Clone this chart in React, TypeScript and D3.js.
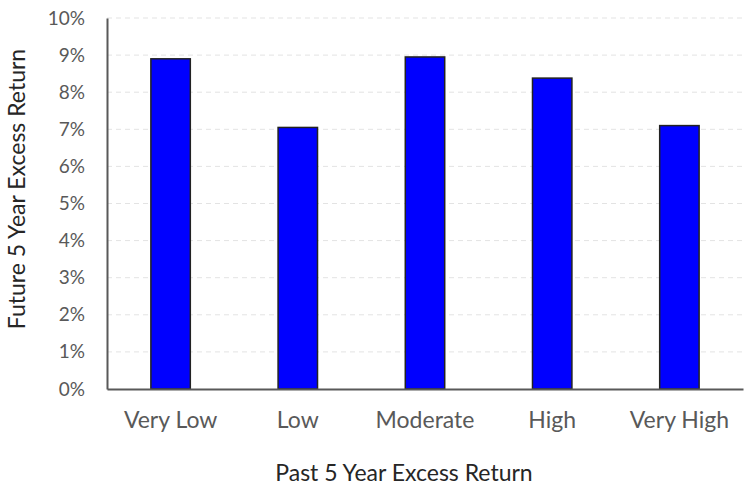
import { useEffect, useRef } from 'react';
import * as d3 from 'd3';

const categories = ['Very Low', 'Low', 'Moderate', 'High', 'Very High'];
const values = [0.089, 0.0705, 0.0895, 0.0838, 0.071];
const yTicks = [0, 0.01, 0.02, 0.03, 0.04, 0.05, 0.06, 0.07, 0.08, 0.09, 0.1];

const App = () => {
  const svgRef = useRef<SVGSVGElement>(null);

  useEffect(() => {
    const svg = d3.select(svgRef.current);
    svg.selectAll('*').remove();

    const width = 745;
    const height = 486;
    const margin = { top: 18, right: 0, bottom: 97, left: 107 };
    const font = 'Lato, "Open Sans", sans-serif';

    const x = d3
      .scaleBand()
      .domain(categories)
      .range([margin.left, width - 2])
      .paddingInner(0.69)
      .paddingOuter(0.345);

    const y = d3
      .scaleLinear()
      .domain([0, 0.1])
      .range([height - margin.bottom, margin.top]);

    // gridlines
    svg
      .append('g')
      .selectAll('line')
      .data(yTicks.slice(1))
      .enter()
      .append('line')
      .attr('x1', margin.left)
      .attr('x2', width - 2)
      .attr('y1', (d) => y(d))
      .attr('y2', (d) => y(d))
      .attr('stroke', '#e3e3e3')
      .attr('stroke-dasharray', '5,4');

    // bars
    svg
      .append('g')
      .selectAll('rect')
      .data(values)
      .enter()
      .append('rect')
      .attr('x', (d, i) => x(categories[i]) as number)
      .attr('width', x.bandwidth())
      .attr('y', (d) => y(d))
      .attr('height', (d) => y(0) - y(d))
      .attr('fill', '#0000ff')
      .attr('stroke', '#222')
      .attr('stroke-width', 1.5);

    // y axis
    const yAxis = svg
      .append('g')
      .attr('transform', `translate(${margin.left},0)`)
      .call(
        d3
          .axisLeft(y)
          .tickValues(yTicks)
          .tickFormat(d3.format('.0%'))
          .tickSize(0)
          .tickPadding(22)
      );
    yAxis.select('.domain').attr('stroke', '#595959').attr('stroke-width', 2);
    yAxis
      .selectAll('text')
      .attr('font-family', font)
      .attr('font-size', 19)
      .attr('fill', '#595959');

    // x axis
    const xAxis = svg
      .append('g')
      .attr('transform', `translate(0,${y(0)})`)
      .call(d3.axisBottom(x).tickSize(0).tickPadding(23));
    xAxis.select('.domain').attr('stroke', '#595959').attr('stroke-width', 2);
    xAxis
      .selectAll('text')
      .attr('font-family', font)
      .attr('font-size', 23)
      .attr('fill', '#595959');

    svg
      .append('text')
      .attr('x', 404)
      .attr('y', 481)
      .attr('text-anchor', 'middle')
      .attr('font-family', font)
      .attr('font-size', 23)
      .attr('fill', '#262626')
      .text('Past 5 Year Excess Return');

    svg
      .append('text')
      .attr('transform', `translate(25,189) rotate(-90)`)
      .attr('text-anchor', 'middle')
      .attr('font-family', font)
      .attr('font-size', 23)
      .attr('fill', '#262626')
      .text('Future 5 Year Excess Return');
  }, []);

  return (
    <div style={{ position: 'absolute', left: 0, top: 0 }}>
      <svg ref={svgRef} width={745} height={486} style={{ display: 'block', background: '#fff' }}></svg>
    </div>
  );
};

export default App;
